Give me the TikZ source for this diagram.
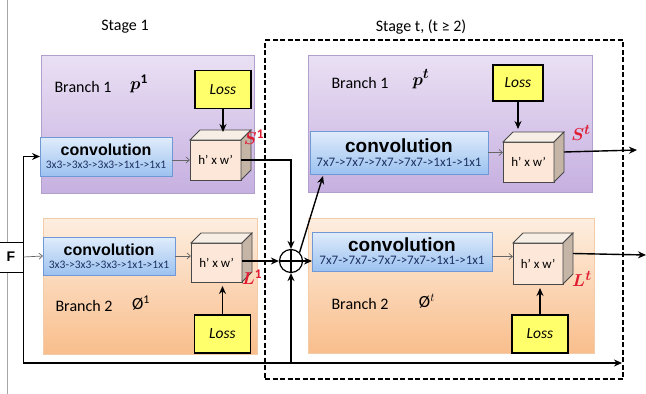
\documentclass[tikz,border=0pt]{standalone}
\usepackage{amsmath}
\usepackage{fontspec}
\setmainfont{Carlito}
\newfontfamily\arialf{Liberation Sans}
\newfontfamily\timesf{Liberation Serif}
\usetikzlibrary{arrows.meta,calc}

\definecolor{purpTop}{RGB}{234,224,244}
\definecolor{purpBot}{RGB}{198,176,224}
\definecolor{purpEdge}{RGB}{178,160,204}
\definecolor{orTop}{RGB}{253,238,224}
\definecolor{orBot}{RGB}{249,190,140}
\definecolor{orEdge}{RGB}{242,204,168}
\definecolor{convTop}{RGB}{224,236,251}
\definecolor{convBot}{RGB}{156,194,240}
\definecolor{convEdge}{RGB}{112,152,212}
\definecolor{navy}{RGB}{28,48,98}
\definecolor{lossY}{RGB}{255,255,108}
\definecolor{cubeFront}{RGB}{252,231,216}
\definecolor{cubeTop}{RGB}{247,238,230}
\definecolor{cubeSide}{RGB}{196,181,167}
\definecolor{cubeLine}{RGB}{72,72,72}
\definecolor{labred}{RGB}{224,28,50}

\newcommand\fsz[1]{\fontsize{#1}{#1}\selectfont}
% the two hidden faces of a feature-map cube, attached to its front node
\newcommand\cubefaces[1]{%
  \filldraw[fill=cubeTop,draw=cubeLine,line width=0.8pt]
    (#1.north west) -- ++(10,-10) -- ($(#1.north east)+(10,-10)$) -- (#1.north east) -- cycle;
  \filldraw[fill=cubeSide,draw=cubeLine,line width=0.8pt]
    (#1.north east) -- ++(10,-10) -- ($(#1.south east)+(10,-10)$) -- (#1.south east) -- cycle;}

\begin{document}
\begin{tikzpicture}[x=1pt,y=-1pt,
  panelP/.style={draw=purpEdge,line width=0.6pt,top color=purpTop,bottom color=purpBot,anchor=north west,inner sep=0pt,outer sep=0pt},
  panelO/.style={draw=orEdge,line width=0.6pt,top color=orTop,bottom color=orBot,anchor=north west,inner sep=0pt,outer sep=0pt},
  convbox/.style={draw=convEdge,line width=0.7pt,top color=convTop,bottom color=convBot,align=center,inner sep=0pt,outer sep=0pt},
  lossbox/.style={draw=black,line width=1.6pt,fill=lossY,minimum width=56pt,minimum height=38pt,inner sep=0pt,
     font=\itshape\fsz{15.5}},
  cubefront/.style={draw=cubeLine,line width=0.8pt,fill=cubeFront,inner sep=0pt,outer sep=0pt,font=\fsz{13}},
  plusnode/.style={circle,draw=black,line width=1.2pt,minimum size=23pt,inner sep=0pt},
  stagebox/.style={draw=black,line width=1.3pt,dash pattern=on 5pt off 2.5pt,inner sep=0pt},
  flow/.style={line width=1.4pt,-{Stealth[length=8pt,width=7pt]}},
  thinflow/.style={draw=black!60,line width=0.7pt,-{Straight Barb[length=3.5pt,width=6pt]}},
  title/.style={font=\fsz{16}},
  mathlab/.style={font=\fsz{19}},
  redlab/.style={text=labred,font=\fsz{19}}]

\useasboundingbox (0,0) rectangle (646,394);
\fill[white] (0,0) rectangle (646,394);
\draw[black!35,line width=0.8pt] (7,0) -- (7,394);

% titles
\node[title] (t1) at (125,27) {Stage 1};
\node[title] (t2) at (421,27) {Stage t, (t ≥ 2)};

% branch panels
\node[panelP,minimum width=213pt,minimum height=138pt] (b11) at (41,55) {};
\node[panelO,minimum width=214pt,minimum height=136pt] (b21) at (43,218) {};
\node[panelP,minimum width=284pt,minimum height=137pt] (bt1) at (308,55) {};
\node[panelO,minimum width=286pt,minimum height=135pt] (bt2) at (308,218) {};

% dashed frame of the later stages
\node[stagebox,minimum width=358pt,minimum height=339pt] (frame) at (444,209.5) {};

% panel captions
\node[title] (n11) at (83,87) {Branch 1};
\node[mathlab] (p11) at (139,84) {$\boldsymbol{p}^{\mathbf{1}}$};
\node[title] (n21) at (84,306) {Branch 2};
\node[title,font=\fsz{17}] (p21) at (141,303) {Ø\textsuperscript{1}};
\node[title] (nt1) at (360,83) {Branch 1};
\node[mathlab] (pt1) at (421,79) {$\boldsymbol{p}^{\boldsymbol{t}}$};
\node[title] (nt2) at (360,304) {Branch 2};
\node[title,font=\fsz{17}] (pt2) at (427,301) {Ø$^{t}$};

% convolution blocks
\node[convbox,minimum width=132pt,minimum height=39pt] (c11) at (106,156.5)
  {{\arialf\bfseries\fsz{16}convolution}\\[1pt]{\color{navy}\fsz{11.5}3x3->3x3->3x3->1x1->1x1}};
\node[convbox,minimum width=132pt,minimum height=38pt] (c21) at (109,256)
  {{\arialf\bfseries\fsz{16}convolution}\\[1pt]{\color{navy}\fsz{11.5}3x3->3x3->3x3->1x1->1x1}};
\node[convbox,minimum width=178pt,minimum height=43pt] (ct1) at (399,152.5)
  {{\arialf\bfseries\fsz{19}convolution}\\[2pt]{\color{navy}\fsz{13}7x7->7x7->7x7->7x7->1x1->1x1}};
\node[convbox,minimum width=180pt,minimum height=39pt] (ct2) at (402,251.5)
  {{\arialf\bfseries\fsz{19}convolution}\\[1pt]{\color{navy}\fsz{13}7x7->7x7->7x7->7x7->1x1->1x1}};

% feature-map cubes
\node[cubefront,minimum width=51pt,minimum height=40pt] (k11) at (215.5,160) {h’ x w’};
\cubefaces{k11}
\node[cubefront,minimum width=51pt,minimum height=39pt] (k21) at (216.5,262.5) {h’ x w’};
\cubefaces{k21}
\node[cubefront,minimum width=51pt,minimum height=40pt] (kt1) at (528.5,162) {h’ x w’};
\cubefaces{kt1}
\node[cubefront,minimum width=50pt,minimum height=41pt] (kt2) at (538,263.5) {h’ x w’};
\cubefaces{kt2}

\node[redlab] (s1) at (254,137) {$\boldsymbol{S}^{\mathbf{1}}$};
\node[redlab] (l1) at (252,277) {$\boldsymbol{L}^{\mathbf{1}}$};
\node[redlab] (st) at (581,133) {$\boldsymbol{S}^{\boldsymbol{t}}$};
\node[redlab] (lt) at (582,279) {$\boldsymbol{L}^{\boldsymbol{t}}$};

% loss boxes
\node[lossbox] (L11) at (223,89.5) {Loss};
\node[lossbox] (L21) at (222.5,334) {Loss};
\node[lossbox,minimum width=50pt,minimum height=36pt] (Lt1) at (518,83) {Loss};
\node[lossbox] (Lt2) at (540,334) {Loss};

% input and merge
\node[draw=black,line width=0.8pt,fill=white,minimum width=24pt,minimum height=30pt,inner sep=0pt,
      font=\arialf\bfseries\fsz{14}] (F) at (11,257) {F};
\node[plusnode] (plus) at (291,261) {};
\draw[line width=1.2pt] (plus.north) -- (plus.south) (plus.west) -- (plus.east);
\coordinate (endB) at (622,363);
\coordinate (outT1) at (637,150);
\coordinate (outT2) at (646,255);

% connectors
\draw[flow] (F.north east) |- (c11.west);
\draw[thinflow] (F.east) -- (c21.west);
\draw[flow] (F.south east) |- (endB);
\draw[flow] (plus.south |- endB) -- (plus.south);

\draw[thinflow] (k11.west -| c11.east) -- (k11.west);
\draw[thinflow] (c21.east) -- (c21.east -| k21.west);
\draw[thinflow] (ct1.east) -- (ct1.east -| kt1.west);
\draw[thinflow] ($(ct2.east)+(0,5)$) -- ($(ct2.east -| kt2.west)+(0,5)$);

\draw[flow] (L11.south) -- ($(L11.south |- k11.north)+(0,-8)$);
\draw[flow] (L21.north) -- ($(L21.north |- k21.south)+(0,4)$);
\draw[flow] (Lt1.south) -- ($(Lt1.south |- kt1.north)+(0,-13)$);
\draw[flow] (Lt2.north) -- ($(Lt2.north |- kt2.south)+(0,4)$);

\draw[flow] (k11.east) -| (plus.north);
\draw[flow] (k21.east |- plus.west) -- (plus.west);
\draw[flow] (plus.east) -- (plus.east -| ct2.west);
\draw[flow] (plus.north east) -- ($(ct1.south west)+(13,2)$);

\draw[flow] ($(kt1.east)+(10,-10)$) -- (outT1);
\draw[flow] ($(kt2.east)+(10,-10)$) -- (outT2);
\end{tikzpicture}
\end{document}
